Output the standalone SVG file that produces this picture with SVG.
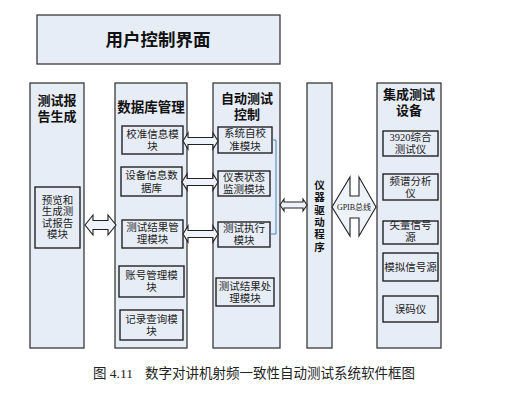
<svg xmlns="http://www.w3.org/2000/svg" width="516" height="406" viewBox="0 0 516 406">
<style>
.col{fill:#e7edf7;stroke:#3a3a3a;stroke-width:1.3}
.box{fill:#e7edf7;stroke:#222;stroke-width:1.4}
.arr{fill:#eef2fa;stroke:#222;stroke-width:1.1;stroke-linejoin:miter}
.h{font-family:"Liberation Sans","Noto Sans CJK SC",sans-serif;font-weight:bold;fill:#111;text-anchor:middle;dominant-baseline:central}
.t{font-family:"Liberation Serif","Noto Sans CJK SC",serif;font-size:10.5px;fill:#222;text-anchor:middle;dominant-baseline:central}
.cap{font-family:"Liberation Serif","Noto Sans CJK SC",serif;font-size:13.5px;fill:#222;dominant-baseline:central}
</style>
<rect width="516" height="406" fill="#ffffff"/>

<g id="ui">
<rect class="col" x="37" y="15" width="243" height="49"/>
<text class="h" x="158" y="40" font-size="17.5">用户控制界面</text>
</g>

<g id="report">
<rect class="col" x="30" y="83" width="54" height="265"/>
<text class="h" x="57" y="100" font-size="13">测试报</text>
<text class="h" x="57" y="116" font-size="13">告生成</text>
<g id="preview">
<rect class="box" x="35" y="187" width="45" height="61"/>
<text class="t" x="57.5" y="200">预览和</text>
<text class="t" x="57.5" y="211.5">生成测</text>
<text class="t" x="57.5" y="223">试报告</text>
<text class="t" x="57.5" y="234.5">模块</text>
</g>
</g>

<g id="db">
<rect class="col" x="115" y="83" width="72" height="265"/>
<text class="h" x="151" y="107" font-size="13.5">数据库管理</text>
<g id="calinfo">
<rect class="box" x="122" y="126" width="61" height="28"/>
<text class="t" x="152.5" y="134">校准信息模</text>
<text class="t" x="152.5" y="146">块</text>
</g>
<g id="devinfo">
<rect class="box" x="121" y="167" width="61" height="29"/>
<text class="t" x="151.5" y="175">设备信息数</text>
<text class="t" x="151.5" y="188">据库</text>
</g>
<g id="resmgr">
<rect class="box" x="122" y="220" width="61" height="28"/>
<text class="t" x="152.5" y="227">测试结果管</text>
<text class="t" x="152.5" y="239">理模块</text>
</g>
<g id="account">
<rect class="box" x="119" y="266" width="65" height="31"/>
<text class="t" x="151.5" y="275">账号管理模</text>
<text class="t" x="151.5" y="287">块</text>
</g>
<g id="record">
<rect class="box" x="120" y="310" width="63" height="30"/>
<text class="t" x="151.5" y="319">记录查询模</text>
<text class="t" x="151.5" y="331">块</text>
</g>
</g>

<g id="auto">
<rect class="col" x="213" y="83" width="67" height="265"/>
<text class="h" x="247" y="98.5" font-size="13">自动测试</text>
<text class="h" x="247" y="114" font-size="13">控制</text>
<g id="selfcal">
<rect class="box" x="218" y="127" width="54" height="26"/>
<text class="t" x="245" y="133.5">系统自校</text>
<text class="t" x="245" y="146">准模块</text>
</g>
<g id="monitor">
<rect class="box" x="218" y="171" width="52" height="25"/>
<text class="t" x="244" y="177">仪表状态</text>
<text class="t" x="244" y="189">监测模块</text>
</g>
<g id="exec">
<rect class="box" x="218" y="222" width="52" height="25"/>
<text class="t" x="244" y="228">测试执行</text>
<text class="t" x="244" y="240">模块</text>
</g>
<g id="resproc">
<rect class="box" x="216" y="278" width="58" height="28"/>
<text class="t" x="245" y="286">测试结果处</text>
<text class="t" x="245" y="298">理模块</text>
</g>
</g>

<g id="driver">
<rect class="col" x="307" y="83" width="25" height="265"/>
<text class="h" x="319.5" y="185" font-size="10.5">仪</text>
<text class="h" x="319.5" y="197.3" font-size="10.5">器</text>
<text class="h" x="319.5" y="209.6" font-size="10.5">驱</text>
<text class="h" x="319.5" y="221.9" font-size="10.5">动</text>
<text class="h" x="319.5" y="234.2" font-size="10.5">程</text>
<text class="h" x="319.5" y="246.5" font-size="10.5">序</text>
</g>

<g id="equip">
<rect class="col" x="377" y="83" width="64" height="265"/>
<text class="h" x="409" y="94.5" font-size="13">集成测试</text>
<text class="h" x="409" y="110" font-size="13">设备</text>
<g id="e3920">
<rect class="box" x="383" y="131" width="55" height="25"/>
<text class="t" x="410.5" y="137">3920综合</text>
<text class="t" x="410.5" y="149">测试仪</text>
</g>
<g id="spectrum">
<rect class="box" x="383" y="174" width="55" height="26"/>
<text class="t" x="410.5" y="181">频谱分析</text>
<text class="t" x="410.5" y="193">仪</text>
</g>
<g id="vsg">
<rect class="box" x="383" y="221" width="55" height="23"/>
<text class="t" x="410.5" y="225">矢量信号</text>
<text class="t" x="410.5" y="237">源</text>
</g>
<g id="asg">
<rect class="box" x="383" y="253" width="55" height="28"/>
<text class="t" x="410.5" y="267">模拟信号源</text>
</g>
<g id="ber">
<rect class="box" x="383" y="296" width="55" height="26"/>
<text class="t" x="410.5" y="309">误码仪</text>
</g>
</g>

<g id="connectors">
<polygon class="arr" points="85,225 93,215 93,220.5 108,220.5 108,215 116,225 108,235 108,229.5 93,229.5 93,235"/>
<polygon class="arr" points="183,141 188,133 188,137.5 213,137.5 213,133 218,141 213,149 213,144.5 188,144.5 188,149"/>
<polygon class="arr" points="182,182 187,174 187,178.5 213,178.5 213,174 218,182 213,190 213,185.5 187,185.5 187,190"/>
<polygon class="arr" points="183,234 188,226 188,230.5 213,230.5 213,226 218,234 213,242 213,237.5 188,237.5 188,242"/>
<polygon class="arr" points="280,205 284,199 284,202 303,202 303,199 307,205 303,211 303,208 284,208 284,211"/>
<polygon class="arr" points="332,207 350,177 350,196 359,196 359,177 376,207 359,236 359,218 350,218 350,236"/>
<text x="354" y="207.5" font-family="Liberation Serif,Noto Sans CJK SC,serif" font-size="8" fill="#222" text-anchor="middle" dominant-baseline="central">GPIB总线</text>
<path d="M272,140 H276 V234 H270" fill="none" stroke="#4a7fc1" stroke-width="1"/>
</g>

<g id="caption">
<text class="cap" x="93" y="373">图 4.11</text>
<text class="cap" x="145" y="373">数字对讲机射频一致性自动测试系统软件框图</text>
</g>
</svg>
